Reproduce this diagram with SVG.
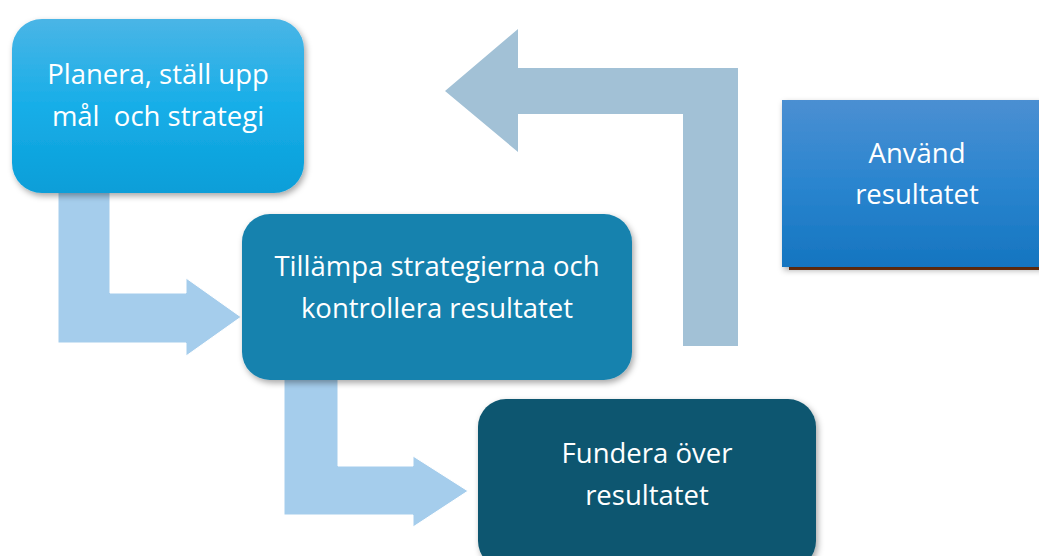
<svg xmlns="http://www.w3.org/2000/svg" width="1039" height="556" viewBox="0 0 1039 556">
<defs>
<linearGradient id="g1" x1="0" y1="0" x2="0" y2="1">
<stop offset="0" stop-color="#4ab5e6"/>
<stop offset="0.5" stop-color="#17aee8"/>
<stop offset="1" stop-color="#0a9ed8"/>
</linearGradient>
<linearGradient id="g4" x1="0" y1="0" x2="0" y2="1">
<stop offset="0" stop-color="#4b8fd2"/>
<stop offset="0.5" stop-color="#2a85cf"/>
<stop offset="1" stop-color="#1575c0"/>
</linearGradient>
<filter id="sh" x="-10%" y="-10%" width="125%" height="130%">
<feDropShadow dx="2" dy="3" stdDeviation="3" flood-color="#000" flood-opacity="0.35"/>
</filter>
</defs>
<style>
.lbl{font-family:"Open Sans","Liberation Sans",sans-serif;font-size:27.5px;fill:#ffffff;text-anchor:middle}
.arr{fill:#a5cdec;stroke:#ffffff;stroke-width:1}
.back{fill:#a2c1d6}
</style>
<g id="connectors">
<polygon class="arr" points="58,190 110,190 110,293 186,293 186,278 241,317 186,356 186,343 58,343"/>
<polygon class="arr" points="284,378 338,378 338,466 413,466 413,456 468,491 413,527 413,515 284,515"/>
<polygon class="back" points="445,91 518,29 518,68 738,68 738,346 683,346 683,114 518,114 518,152"/>
</g>
<g id="node-planera">
<rect x="12" y="19" width="292" height="174" rx="30" fill="url(#g1)" filter="url(#sh)"/>
<text class="lbl" x="158" y="84">Planera, ställ upp</text>
<text class="lbl" x="158" y="126" xml:space="preserve">mål  och strategi</text>
</g>
<g id="node-tillampa">
<rect x="242" y="214" width="390" height="166" rx="28" fill="#1682ae" filter="url(#sh)"/>
<text class="lbl" x="437" y="276">Tillämpa strategierna och</text>
<text class="lbl" x="437" y="318">kontrollera resultatet</text>
</g>
<g id="node-fundera">
<rect x="478" y="399" width="338" height="170" rx="28" fill="#0f5770" filter="url(#sh)"/>
<text class="lbl" x="647" y="463">Fundera över</text>
<text class="lbl" x="647" y="505">resultatet</text>
</g>
<g id="node-anvand">
<rect x="789" y="104" width="260" height="166" fill="#7a3510"/>
<rect x="782" y="100" width="262" height="167" fill="url(#g4)" filter="url(#sh)"/>
<text class="lbl" x="917" y="163">Använd</text>
<text class="lbl" x="917" y="204">resultatet</text>
</g>
</svg>
